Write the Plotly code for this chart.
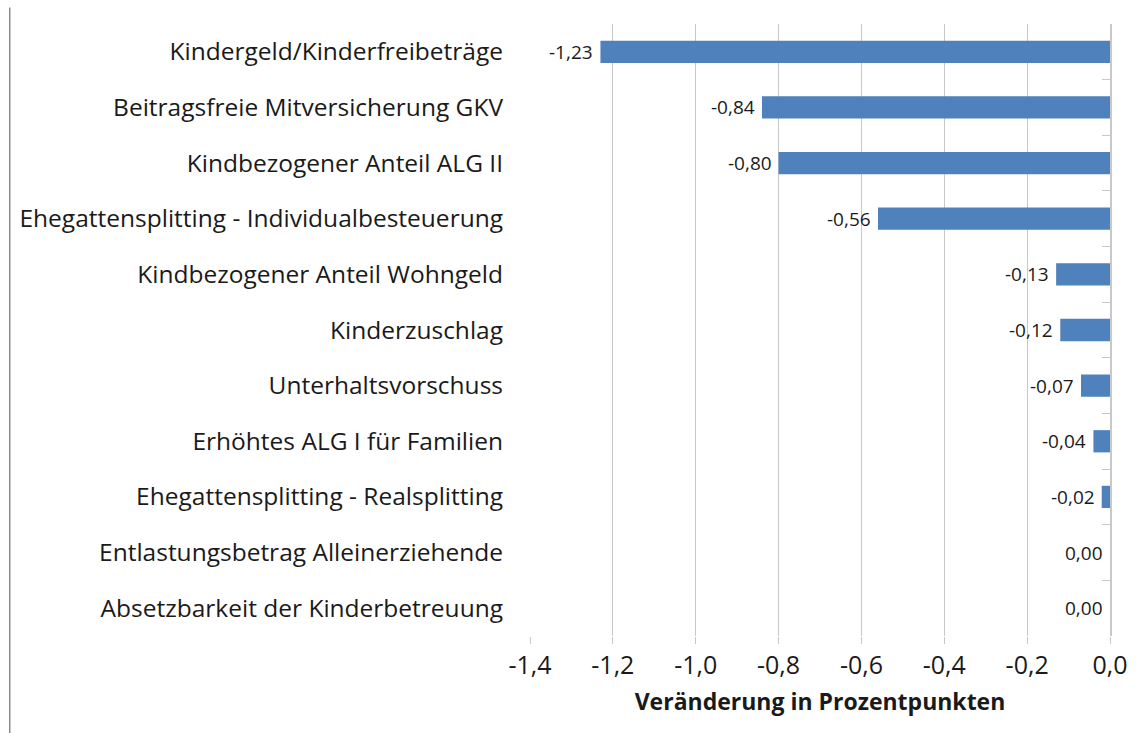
import plotly.graph_objects as go

# ── Daten ────────────────────────────────────────────────
massnahmen = [
    "Kindergeld/Kinderfreibeträge",
    "Beitragsfreie Mitversicherung GKV",
    "Kindbezogener Anteil ALG II",
    "Ehegattensplitting - Individualbesteuerung",
    "Kindbezogener Anteil Wohngeld",
    "Kinderzuschlag",
    "Unterhaltsvorschuss",
    "Erhöhtes ALG I für Familien",
    "Ehegattensplitting - Realsplitting",
    "Entlastungsbetrag Alleinerziehende",
    "Absetzbarkeit der Kinderbetreuung",
]
veraenderung = [-1.23, -0.84, -0.80, -0.56, -0.13, -0.12, -0.07, -0.04, -0.02, 0.00, 0.00]

x_ticks = [-1.4, -1.2, -1.0, -0.8, -0.6, -0.4, -0.2, 0.0]
x_tick_labels = ["-1,4", "-1,2", "-1,0", "-0,8", "-0,6", "-0,4", "-0,2", "0,0"]
x_titel = "Veränderung in Prozentpunkten"

FONT = "Open Sans"
BLAU = "#4F81BD"
GRAU = "#C8C8C8"

fig = go.Figure()
fig.add_trace(go.Bar(
    x=veraenderung, y=massnahmen, orientation="h",
    marker=dict(color=BLAU, line=dict(width=0)),
    hoverinfo="x+y",
))

# Datenbeschriftungen links vom Balkenende
for name, wert in zip(massnahmen, veraenderung):
    fig.add_annotation(
        x=wert, y=name, text=f"{wert:.2f}".replace(".", ","),
        xanchor="right", showarrow=False, xshift=-5,
        font=dict(family=FONT, size=19, color="#1a1a1a"),
    )

n = len(massnahmen)
grenzen = [i + 0.5 for i in range(n - 1)]

fig.update_layout(
    width=1137, height=733,
    margin=dict(l=530, r=27, t=24, b=97, autoexpand=False),
    paper_bgcolor="white", plot_bgcolor="white",
    showlegend=False,
    bargap=0.6,
    separators=",.",
    font=dict(family=FONT, color="#1a1a1a"),
    xaxis=dict(
        range=[-1.4, 0.0], automargin=False,
        tickvals=x_ticks, ticktext=x_tick_labels,
        tickfont=dict(size=25),
        showgrid=True, gridcolor=GRAU, gridwidth=1,
        zeroline=False, showline=False,
        ticks="outside", ticklen=7, tickcolor=GRAU,
        title=dict(text="<b>" + x_titel + "</b>", font=dict(size=23), standoff=13),
    ),
    yaxis=dict(
        autorange="reversed", automargin=False,
        tickfont=dict(size=24.5),
        showgrid=False, zeroline=False, showline=False,
        ticks="", ticklabelstandoff=26,
    ),
    yaxis2=dict(
        overlaying="y", side="right", anchor="x", automargin=False,
        range=[n - 0.5, -0.5],
        tickvals=grenzen, showticklabels=False,
        ticks="inside", ticklen=8, tickcolor=GRAU,
        showline=True, linecolor=GRAU, linewidth=1.5,
        showgrid=False, zeroline=False,
    ),
)
fig.add_trace(go.Scatter(x=[None], y=[None], yaxis="y2", showlegend=False, hoverinfo="skip"))

# Rahmenlinie links
fig.add_shape(type="line", xref="paper", yref="paper",
              x0=-0.897, x1=-0.897, y0=-0.16, y1=1.027,
              line=dict(color="#8C8C8C", width=1.5))

fig.write_html("out.html", config={"displayModeBar": False},
               post_script="document.body.style.margin='0';")
